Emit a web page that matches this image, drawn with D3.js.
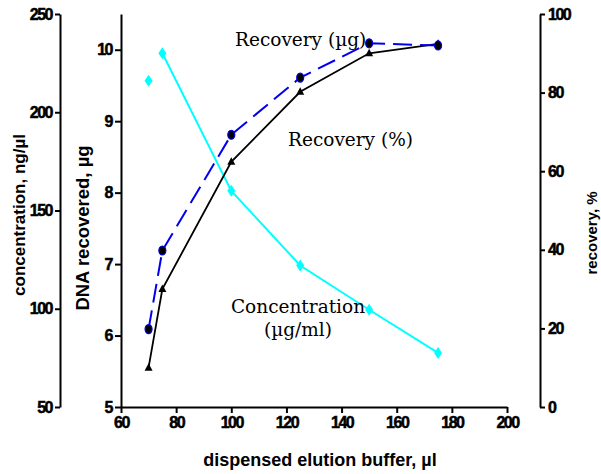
<!DOCTYPE html>
<html>
<head>
<meta charset="utf-8">
<script src="https://cdn.jsdelivr.net/npm/d3@7"></script>
<style>
  body { margin: 0; background: #fff; }
  .title { font-family: "Liberation Sans", Arial, sans-serif; font-weight: bold; }
  .note { font-family: "DejaVu Serif", serif; font-size: 18.5px; }
</style>
</head>
<body>
<svg id="chart" width="601" height="474"></svg>
<script>
// dispensed elution buffer, µl
var buffer = [70, 75, 100, 125, 150, 175];
// DNA recovered, µg
var dnaUg = [6.09, 7.19, 8.81, 9.61, 10.09, 10.06];
// recovery, %
var recoveryPct = [10, 30, 62.4, 80.2, 90, 92.4];
// concentration, ng/µl
var concentration = [216, 230, 160, 122, 99.5, 77.5];

var xTicks = [60, 80, 100, 120, 140, 160, 180, 200];
var dnaTicks = [5, 6, 7, 8, 9, 10];
var concTicks = [50, 100, 150, 200, 250];
var pctTicks = [0, 20, 40, 60, 80, 100];

var svg = d3.select("#chart");

var x = d3.scaleLinear().domain([60, 200]).range([121, 507]);
var yDna = d3.scaleLinear().domain([5, 10.5]).range([407, 14]);
var yConc = d3.scaleLinear().domain([50, 250]).range([407, 14]);
var yPct = d3.scaleLinear().domain([0, 100]).range([407, 14]);

var fmt = d3.format("d");

function styleAxis(g) {
    g.selectAll("path, line").attr("stroke", "#000").attr("stroke-width", 2);
    g.selectAll("text")
        .attr("fill", "#000")
        .attr("stroke", "#000")
        .attr("stroke-width", 0.5)
        .style("font-family", "'Liberation Sans', Arial, sans-serif")
        .style("font-weight", "bold")
        .style("font-size", "16px")
        .style("letter-spacing", "-1.5px");
}

svg.append("g")
    .attr("transform", "translate(0,407)")
    .call(d3.axisBottom(x).tickValues(xTicks).tickFormat(fmt).tickSize(6).tickSizeOuter(0).tickPadding(4))
    .call(styleAxis);

svg.append("g")
    .attr("transform", "translate(121,0)")
    .call(d3.axisLeft(yDna).tickValues(dnaTicks).tickFormat(fmt).tickSize(6).tickSizeOuter(0).tickPadding(3))
    .call(styleAxis);

svg.append("g")
    .attr("transform", "translate(60,0)")
    .call(d3.axisLeft(yConc).tickValues(concTicks).tickFormat(fmt).tickSize(5).tickSizeOuter(0).tickPadding(3))
    .call(styleAxis);

svg.append("g")
    .attr("transform", "translate(540,0)")
    .call(d3.axisRight(yPct).tickValues(pctTicks).tickFormat(fmt).tickSize(5).tickSizeOuter(0).tickPadding(3))
    .call(styleAxis);

// axis titles
svg.append("text").attr("class", "title")
    .attr("x", 320).attr("y", 466).attr("text-anchor", "middle")
    .style("font-size", "18px")
    .text("dispensed elution buffer, µl");

svg.append("text").attr("class", "title")
    .attr("transform", "translate(25,215) rotate(-90)")
    .attr("text-anchor", "middle").style("font-size", "17px")
    .text("concentration, ng/µl");

svg.append("text").attr("class", "title")
    .attr("transform", "translate(89,228) rotate(-90)")
    .attr("text-anchor", "middle").style("font-size", "18.5px")
    .text("DNA recovered, µg");

svg.append("text").attr("class", "title")
    .attr("transform", "translate(597,233) rotate(-90)")
    .attr("text-anchor", "middle").style("font-size", "15px")
    .text("recovery, %");

// concentration series (first point is not joined)
var concLine = d3.line()
    .defined(function (d, i) { return i > 0; })
    .x(function (d, i) { return x(buffer[i]); })
    .y(function (d) { return yConc(d); });

svg.append("path")
    .attr("d", concLine(concentration))
    .attr("fill", "none").attr("stroke", "#00ffff").attr("stroke-width", 2);

svg.selectAll(".diamond").data(concentration).enter().append("path")
    .attr("class", "diamond")
    .attr("transform", function (d, i) { return "translate(" + x(buffer[i]) + "," + yConc(d) + ")"; })
    .attr("d", "M0,-6L4,0L0,6L-4,0Z")
    .attr("fill", "#00ffff");

// recovery % series
var pctLine = d3.line()
    .x(function (d, i) { return x(buffer[i]); })
    .y(function (d) { return yPct(d); });

svg.append("path")
    .attr("d", pctLine(recoveryPct))
    .attr("fill", "none").attr("stroke", "#000").attr("stroke-width", 1.8);

svg.selectAll(".tri").data(recoveryPct).enter().append("path")
    .attr("class", "tri")
    .attr("transform", function (d, i) { return "translate(" + x(buffer[i]) + "," + yPct(d) + ")"; })
    .attr("d", "M0,-4.5L4,3L-4,3Z")
    .attr("fill", "#000");

// DNA µg series
var dnaLine = d3.line()
    .x(function (d, i) { return x(buffer[i]); })
    .y(function (d) { return yDna(d); });

svg.append("path")
    .attr("d", dnaLine(dnaUg))
    .attr("fill", "none").attr("stroke", "#0000ee").attr("stroke-width", 2)
    .attr("stroke-dasharray", "19,8");

svg.selectAll(".dot").data(dnaUg).enter().append("ellipse")
    .attr("class", "dot")
    .attr("cx", function (d, i) { return x(buffer[i]); })
    .attr("cy", function (d) { return yDna(d); })
    .attr("rx", 3.5).attr("ry", 4.5)
    .attr("fill", "#000").attr("stroke", "#0000ee").attr("stroke-width", 1.2);

// annotations
svg.append("text").attr("class", "note").attr("x", 235).attr("y", 46).text("Recovery (µg)");
svg.append("text").attr("class", "note").attr("x", 288).attr("y", 146).text("Recovery (%)");
svg.append("text").attr("class", "note").attr("x", 298).attr("y", 313).attr("text-anchor", "middle").text("Concentration");
svg.append("text").attr("class", "note").attr("x", 298).attr("y", 336).attr("text-anchor", "middle").text("(µg/ml)");
</script>
</body>
</html>
